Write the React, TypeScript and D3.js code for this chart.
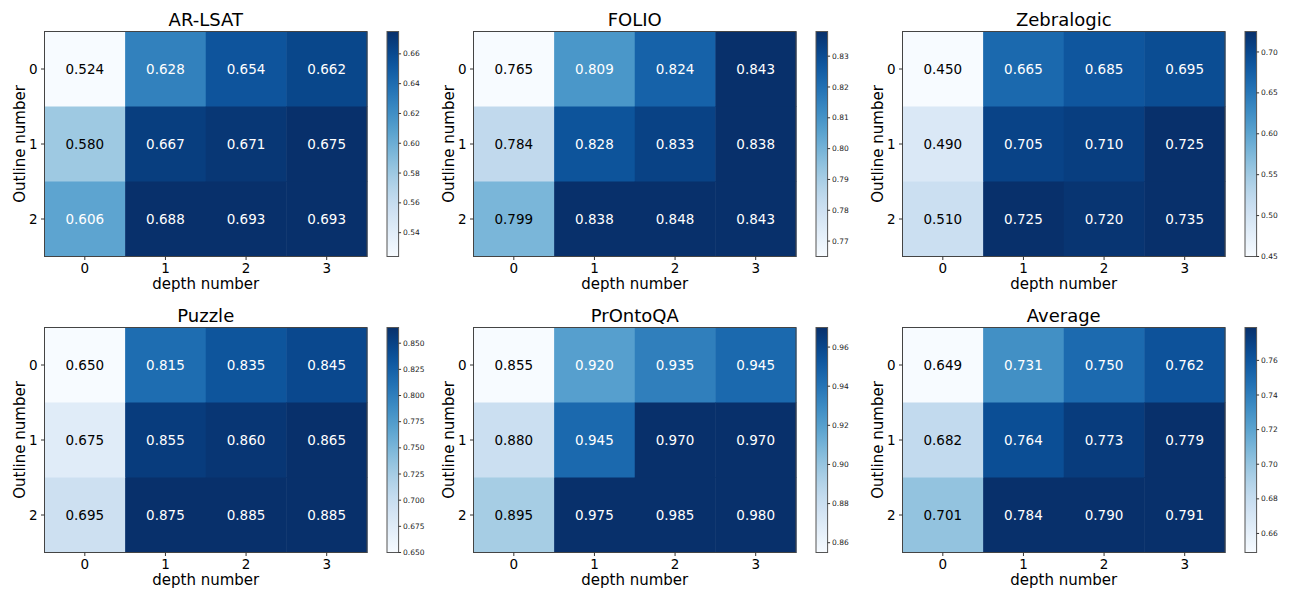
import React from "react";
import * as d3 from "d3";

// datasets, in reading order
const titles = ["AR-LSAT", "FOLIO", "Zebralogic", "Puzzle", "PrOntoQA", "Average"];
const depthLabels = ["0", "1", "2", "3"];
const outlineLabels = ["0", "1", "2"];

// rows = outline number, cols = depth number
const arLsat = [
  [0.524, 0.628, 0.654, 0.662],
  [0.58, 0.667, 0.671, 0.675],
  [0.606, 0.688, 0.693, 0.693],
];
const folio = [
  [0.765, 0.809, 0.824, 0.843],
  [0.784, 0.828, 0.833, 0.838],
  [0.799, 0.838, 0.848, 0.843],
];
const zebralogic = [
  [0.45, 0.665, 0.685, 0.695],
  [0.49, 0.705, 0.71, 0.725],
  [0.51, 0.725, 0.72, 0.735],
];
const puzzle = [
  [0.65, 0.815, 0.835, 0.845],
  [0.675, 0.855, 0.86, 0.865],
  [0.695, 0.875, 0.885, 0.885],
];
const prontoqa = [
  [0.855, 0.92, 0.935, 0.945],
  [0.88, 0.945, 0.97, 0.97],
  [0.895, 0.975, 0.985, 0.98],
];
const average = [
  [0.649, 0.731, 0.75, 0.762],
  [0.682, 0.764, 0.773, 0.779],
  [0.701, 0.784, 0.79, 0.791],
];
const matrices = [arLsat, folio, zebralogic, puzzle, prontoqa, average];

// colour limits
const colorDomains: [number, number][] = [
  [0.524, 0.675],
  [0.765, 0.838],
  [0.45, 0.725],
  [0.65, 0.865],
  [0.855, 0.97],
  [0.649, 0.779],
];
const cbarTicks = [
  ["0.54", "0.56", "0.58", "0.60", "0.62", "0.64", "0.66"],
  ["0.77", "0.78", "0.79", "0.80", "0.81", "0.82", "0.83"],
  ["0.45", "0.50", "0.55", "0.60", "0.65", "0.70"],
  ["0.650", "0.675", "0.700", "0.725", "0.750", "0.775", "0.800", "0.825", "0.850"],
  ["0.86", "0.88", "0.90", "0.92", "0.94", "0.96"],
  ["0.66", "0.68", "0.70", "0.72", "0.74", "0.76"],
];

const W = 1292;
const H = 595;
const colLefts = [44.5, 473.5, 902.5];
const rowTops = [31.5, 327.5];
const pw = 322.5;
const ph = 225;
const font = "DejaVu Sans, sans-serif";

function Panel({ idx }: { idx: number }) {
  const left = colLefts[idx % 3];
  const top = rowTops[Math.floor(idx / 3)];
  const data = matrices[idx];
  const [vmin, vmax] = colorDomains[idx];
  const norm = d3.scaleLinear().domain([vmin, vmax]).range([0, 1]).clamp(true);
  const color = (v: number) => d3.interpolateBlues(norm(v));

  const x = d3.scaleBand().domain(depthLabels).range([0, pw]);
  const y = d3.scaleBand().domain(outlineLabels).range([0, ph]);
  const cy = d3.scaleLinear().domain([vmin, vmax]).range([ph, 0]);
  const gid = `grad${idx}`;
  const cbx = 342.5;
  const cbw = 11.6;

  return (
    <g transform={`translate(${left},${top})`}>
      <defs>
        <linearGradient id={gid} x1="0" y1="1" x2="0" y2="0">
          {d3.range(0, 1.0001, 0.05).map((t) => (
            <stop key={t} offset={t} stopColor={d3.interpolateBlues(t)} />
          ))}
        </linearGradient>
      </defs>
      {data.map((row, r) =>
        row.map((v, c) => (
          <rect
            key={`${r}-${c}`}
            x={x(depthLabels[c])}
            y={y(outlineLabels[r])}
            width={x.bandwidth() + 0.5}
            height={y.bandwidth() + 0.5}
            fill={color(v)}
          />
        ))
      )}
      {data.map((row, r) =>
        row.map((v, c) => (
          <text
            key={`t${r}-${c}`}
            x={x(depthLabels[c])! + x.bandwidth() / 2}
            y={y(outlineLabels[r])! + y.bandwidth() / 2}
            dy="0.36em"
            textAnchor="middle"
            fontSize={13.5}
            fontFamily={font}
            fill={norm(v) > 0.5 ? "#fff" : "#000"}
          >
            {v.toFixed(3)}
          </text>
        ))
      )}
      <rect x={0} y={0} width={pw} height={ph} fill="none" stroke="#444" strokeWidth={1} />
      <text x={pw / 2} y={-6} textAnchor="middle" fontSize={18} fontFamily={font}>
        {titles[idx]}
      </text>
      {depthLabels.map((d) => (
        <g key={d} transform={`translate(${x(d)! + x.bandwidth() / 2},${ph})`}>
          <line y2={3.5} stroke="#333" />
          <text y={16} textAnchor="middle" fontSize={13.5} fontFamily={font}>
            {d}
          </text>
        </g>
      ))}
      {outlineLabels.map((d) => (
        <g key={d} transform={`translate(0,${y(d)! + y.bandwidth() / 2})`}>
          <line x2={-3.5} stroke="#333" />
          <text x={-7} dy="0.36em" textAnchor="end" fontSize={13.5} fontFamily={font}>
            {d}
          </text>
        </g>
      ))}
      <text x={pw / 2} y={ph + 32} textAnchor="middle" fontSize={15} fontFamily={font}>
        depth number
      </text>
      <text
        transform={`translate(${-20},${ph / 2}) rotate(-90)`}
        textAnchor="middle"
        fontSize={15}
        fontFamily={font}
      >
        Outline number
      </text>
      <rect x={cbx} y={0} width={cbw} height={ph} fill={`url(#${gid})`} stroke="#555" strokeWidth={1} />
      {cbarTicks[idx].map((t) => (
        <g key={t} transform={`translate(${cbx + cbw},${cy(+t)})`}>
          <line x2={2.5} stroke="#333" />
          <text x={4.5} dy="0.35em" fontSize={7.5} fontFamily={font} fill="#222">
            {t}
          </text>
        </g>
      ))}
    </g>
  );
}

export default function App() {
  return (
    <svg
      width={W}
      height={H}
      style={{ position: "absolute", left: 0, top: 0, background: "#fff" }}
    >
      {titles.map((_, i) => (
        <Panel key={i} idx={i} />
      ))}
    </svg>
  );
}
